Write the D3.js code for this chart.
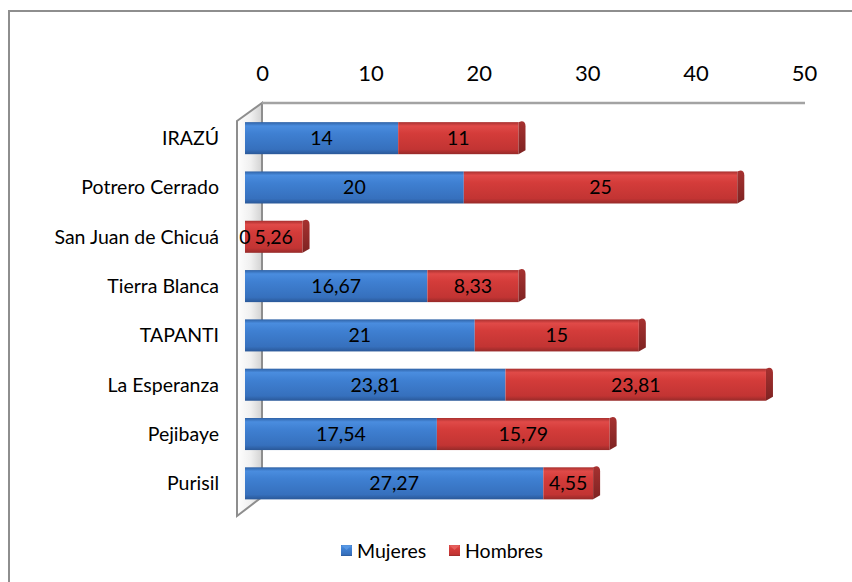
<!DOCTYPE html>
<html lang="es">
<head>
<meta charset="UTF-8">
<title>Mujeres y Hombres por sector</title>
<script src="https://d3js.org/d3.v7.min.js"></script>
<style>
  body { margin: 0; background: #fff; }
  svg text { font-family: Lato, "Open Sans", sans-serif; fill: #000; }
</style>
</head>
<body>
<svg width="852" height="582"></svg>
<script>
// data
const categories = ["IRAZÚ", "Potrero Cerrado", "San Juan de Chicuá", "Tierra Blanca",
                    "TAPANTI", "La Esperanza", "Pejibaye", "Purisil"];
const mujeres = [14, 20, 0, 16.67, 21, 23.81, 17.54, 27.27];
const hombres = [11, 25, 5.26, 8.33, 15, 23.81, 15.79, 4.55];
const tickValues = [0, 10, 20, 30, 40, 50];
const seriesNames = ["Mujeres", "Hombres"];

const svg = d3.select("svg");

// outer chart border (only top/left visible)
svg.append("rect")
  .attr("x", 9).attr("y", 11).attr("width", 900).attr("height", 600)
  .attr("fill", "none").attr("stroke", "#8e8e8e").attr("stroke-width", 2);

const defs = svg.append("defs");
function grad(id, stops) {
  const g = defs.append("linearGradient").attr("id", id)
    .attr("x1", 0).attr("y1", 0).attr("x2", 0).attr("y2", 1);
  stops.forEach(s => g.append("stop").attr("offset", s[0]).attr("stop-color", s[1]));
}
grad("gBlue", [[0, "#2f62a6"], [0.12, "#4a8ddf"], [0.35, "#3f80d2"], [0.85, "#3670bd"], [1, "#2a5898"]]);
grad("gRed", [[0, "#a8302f"], [0.12, "#e04a48"], [0.35, "#d43c3a"], [0.85, "#c23433"], [1, "#962a29"]]);
grad("gBlueCap", [[0, "#2c5a99"], [1, "#234a80"]]);
grad("gRedCap", [[0, "#a63130"], [1, "#7e2322"]]);
const wg = defs.append("linearGradient").attr("id", "gWall")
  .attr("x1", 0).attr("y1", 0).attr("x2", 1).attr("y2", 0);
wg.append("stop").attr("offset", 0).attr("stop-color", "#ffffff");
wg.append("stop").attr("offset", 0.55).attr("stop-color", "#f0f0f0");
wg.append("stop").attr("offset", 1).attr("stop-color", "#d2d2d2");

// scales: back wall axis and (slightly wider) front bar plane
const x = d3.scaleLinear().domain([0, 50]).range([0, 542]);
const xBar = d3.scaleLinear().domain([0, 50]).range([0, 547]);
const y = d3.scaleBand().domain(categories).range([113.5, 508]).paddingInner(0.35).paddingOuter(0.175);

const backX = 262, frontX = 237, barX = 245;

// left wall
svg.append("path")
  .attr("d", `M${frontX},121 L${backX},103 L${backX},497 L${frontX},516 Z`)
  .attr("fill", "url(#gWall)").attr("stroke", "#8e8e8e").attr("stroke-width", 2);
// back top edge
svg.append("line")
  .attr("x1", backX).attr("x2", backX + x(50) + 1).attr("y1", 103).attr("y2", 103)
  .attr("stroke", "#a3a3a3").attr("stroke-width", 2.5);

// top axis labels
const axis = svg.append("g").attr("transform", `translate(${backX},0)`)
  .call(d3.axisTop(x).tickValues(tickValues).tickSize(0).tickPadding(0));
axis.select(".domain").remove();
axis.selectAll("text")
  .attr("y", 81).attr("dy", 0)
  .style("font-family", "Lato, sans-serif").style("font-size", "22px");

// category labels
svg.append("g").selectAll("text").data(categories).join("text")
  .attr("x", 219).attr("y", d => y(d) + y.bandwidth() / 2)
  .attr("dy", "0.35em").attr("text-anchor", "end")
  .style("font-size", "19.5px").text(d => d);

// bars
const fmt = v => String(v).replace(".", ",");
const rows = categories.map((c, i) => ({ cat: c, vals: [mujeres[i], hombres[i]] }));
const fills = ["url(#gBlue)", "url(#gRed)"];
const caps = ["url(#gBlueCap)", "url(#gRedCap)"];

rows.forEach(r => {
  const g = svg.append("g");
  const yt = y(r.cat), h = y.bandwidth(), yb = yt + h;
  let acc = 0;
  const segs = r.vals.map((v, k) => {
    const s = { k, v, x0: barX + xBar(acc), x1: barX + xBar(acc + v) };
    acc += v;
    return s;
  });
  g.selectAll("rect").data(segs).join("rect")
    .attr("x", d => d.x0).attr("y", yt)
    .attr("width", d => Math.max(0, d.x1 - d.x0)).attr("height", h)
    .attr("fill", d => fills[d.k]);
  // right end cap of last segment
  const last = segs[segs.length - 1];
  const xe = last.x1;
  g.append("path")
    .attr("d", `M${xe},${yt} L${xe + 3},${yt - 1} Q${xe + 7},${yt - 1} ${xe + 7},${yt + 4} L${xe + 7},${yb - 4} L${xe},${yb} Z`)
    .attr("fill", caps[last.k]);
  // data labels
  g.selectAll("text").data(segs).join("text")
    .attr("x", d => (d.x0 + d.x1) / 2).attr("y", yt + h / 2)
    .attr("dy", "0.35em").attr("text-anchor", "middle")
    .style("font-size", "19.5px").text(d => fmt(d.v));
});

// legend
const legend = svg.append("g");
const legendX = [341, 449];
seriesNames.forEach((name, k) => {
  legend.append("rect").attr("x", legendX[k]).attr("y", 545).attr("width", 11).attr("height", 11)
    .attr("fill", fills[k]);
  legend.append("path")
    .attr("d", `M${legendX[k]},545 L${legendX[k] + 11},545 L${legendX[k] + 5.5},550 Z`)
    .attr("fill", k === 0 ? "#5b9be6" : "#e86563").attr("opacity", 0.8);
  legend.append("text").attr("x", legendX[k] + 16).attr("y", 551).attr("dy", "0.35em")
    .style("font-size", "19.5px").text(name);
});
</script>
</body>
</html>
